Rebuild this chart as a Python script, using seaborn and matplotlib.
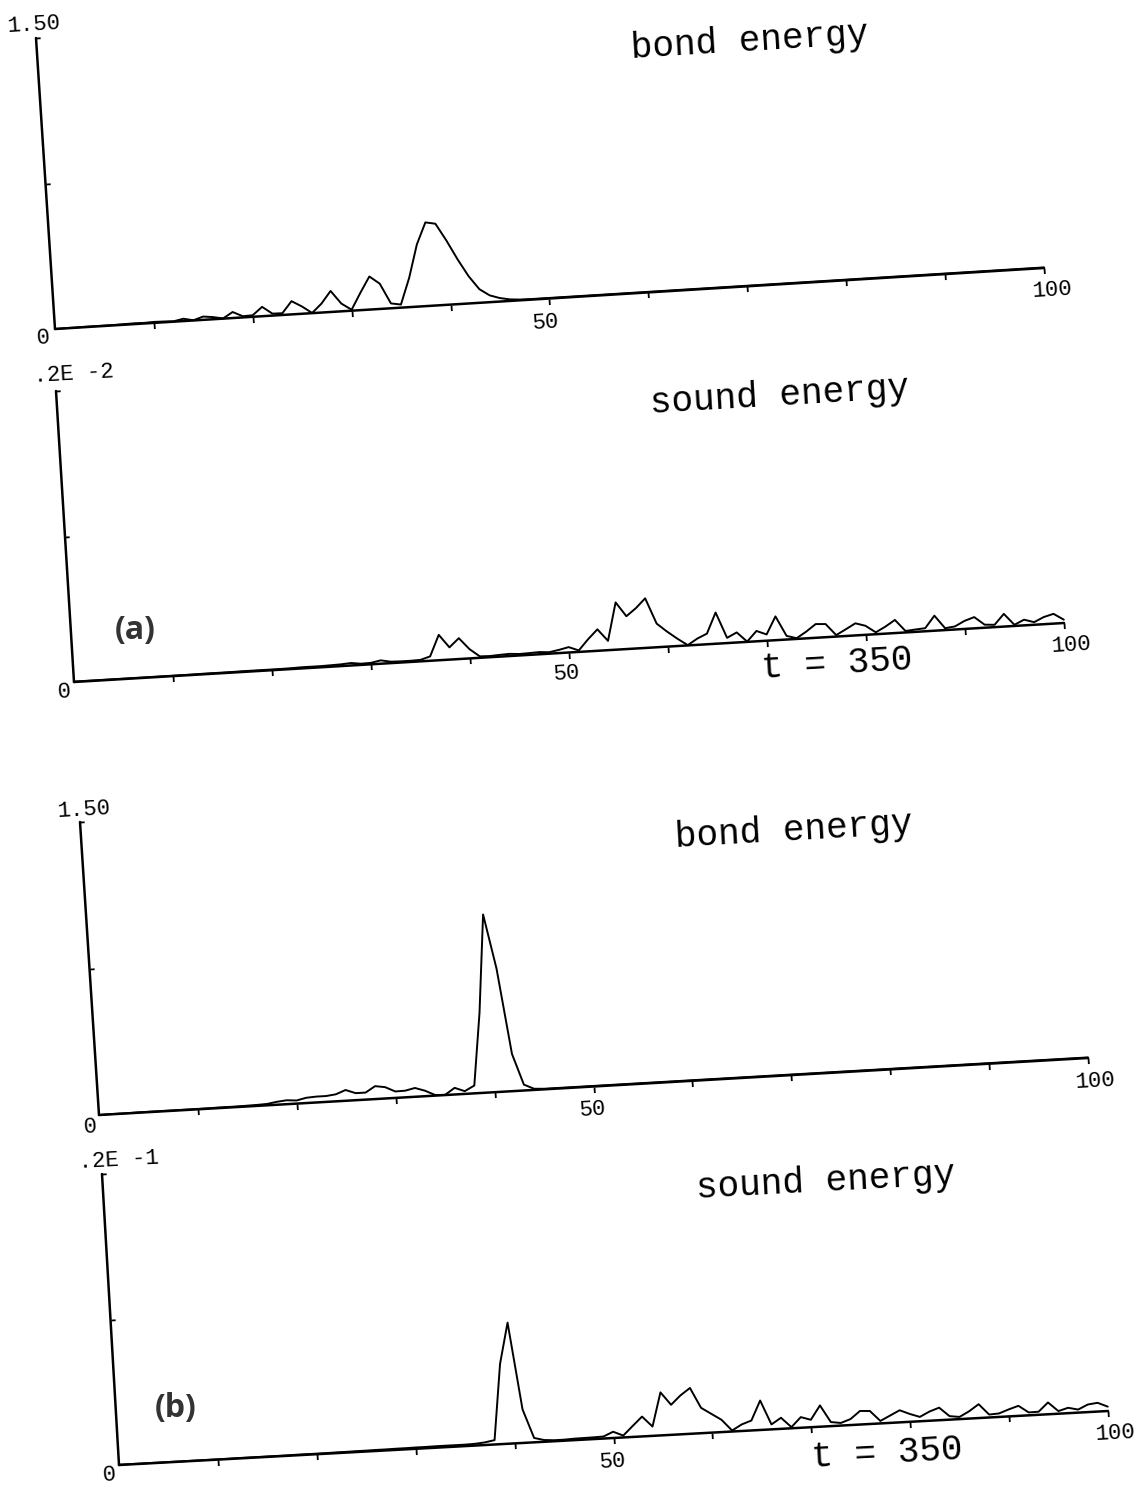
import warnings
import numpy as np
import matplotlib
matplotlib.use("Agg")
import matplotlib.pyplot as plt
import seaborn as sns
from matplotlib.transforms import Affine2D
from mpl_toolkits.axisartist import floating_axes
from mpl_toolkits.axisartist.grid_finder import FixedLocator, DictFormatter

warnings.filterwarnings("ignore")

# ---------------- data ----------------
sites = np.arange(0, 101)

bond_a = [
    0.000, 0.001, 0.001, 0.002, 0.002, 0.002, 0.002, 0.003, 0.004, 0.003,
    0.005, 0.004, 0.002, 0.012, 0.001, 0.017, 0.011, 0.001, 0.031, 0.006,
    0.008, 0.048, 0.010, 0.009, 0.068, 0.038, 0.001, 0.046, 0.108, 0.040,
    0.005, 0.090, 0.170, 0.130, 0.025, 0.016, 0.150, 0.320, 0.430, 0.420,
    0.330, 0.230, 0.140, 0.070, 0.035, 0.018, 0.008, 0.004, 0.003, 0.003,
    0.003, 0.003, 0.003, 0.003, 0.003, 0.003, 0.003, 0.003, 0.003, 0.003,
    0.003, 0.003, 0.003, 0.003, 0.003, 0.003, 0.003, 0.003, 0.003, 0.003,
    0.003, 0.003, 0.003, 0.003, 0.003, 0.003, 0.003, 0.003, 0.003, 0.003,
    0.003, 0.003, 0.003, 0.003, 0.003, 0.003, 0.003, 0.003, 0.003, 0.003,
    0.003, 0.003, 0.003, 0.003, 0.003, 0.003, 0.003, 0.003, 0.003, 0.003,
    0.003,
]

# sound energy in units of 1e-3
sound_a_milli = [
    0.003, 0.003, 0.003, 0.003, 0.003, 0.003, 0.003, 0.003, 0.003, 0.003,
    0.003, 0.003, 0.003, 0.004, 0.004, 0.004, 0.004, 0.005, 0.005, 0.005,
    0.005, 0.005, 0.006, 0.008, 0.008, 0.008, 0.010, 0.012, 0.017, 0.008,
    0.010, 0.023, 0.010, 0.008, 0.008, 0.010, 0.030, 0.174, 0.084, 0.143,
    0.064, 0.010, 0.008, 0.012, 0.015, 0.010, 0.012, 0.015, 0.010, 0.022,
    0.037, 0.010, 0.083, 0.147, 0.064, 0.324, 0.225, 0.276, 0.340, 0.162,
    0.103, 0.050, 0.002, 0.043, 0.073, 0.214, 0.036, 0.069, 0.002, 0.071,
    0.043, 0.163, 0.025, 0.005, 0.046, 0.094, 0.090, 0.010, 0.046, 0.083,
    0.062, 0.013, 0.048, 0.090, 0.010, 0.016, 0.021, 0.103, 0.013, 0.021,
    0.055, 0.077, 0.021, 0.016, 0.087, 0.008, 0.039, 0.018, 0.049, 0.067,
    0.023,
]

bond_b = [
    0.000, 0.001, 0.001, 0.001, 0.002, 0.002, 0.002, 0.002, 0.002, 0.002,
    0.002, 0.002, 0.003, 0.003, 0.003, 0.004, 0.005, 0.007, 0.015, 0.020,
    0.016, 0.027, 0.030, 0.030, 0.036, 0.055, 0.036, 0.036, 0.066, 0.058,
    0.033, 0.034, 0.045, 0.028, 0.003, 0.001, 0.034, 0.014, 0.040, 0.410,
    0.910, 0.630, 0.190, 0.030, 0.006, 0.003, 0.003, 0.003, 0.003, 0.003,
    0.003, 0.003, 0.003, 0.003, 0.003, 0.003, 0.003, 0.003, 0.003, 0.003,
    0.003, 0.003, 0.003, 0.003, 0.003, 0.003, 0.003, 0.003, 0.003, 0.003,
    0.003, 0.003, 0.003, 0.003, 0.003, 0.003, 0.003, 0.003, 0.003, 0.003,
    0.003, 0.003, 0.003, 0.003, 0.003, 0.003, 0.003, 0.003, 0.003, 0.003,
    0.003, 0.003, 0.003, 0.003, 0.003, 0.003, 0.003, 0.003, 0.003, 0.003,
    0.003,
]

sound_b_milli = [
    0.02, 0.02, 0.02, 0.02, 0.02, 0.02, 0.02, 0.02, 0.02, 0.02,
    0.02, 0.02, 0.03, 0.03, 0.03, 0.03, 0.03, 0.03, 0.04, 0.04,
    0.04, 0.04, 0.05, 0.05, 0.06, 0.06, 0.07, 0.07, 0.08, 0.08,
    0.09, 0.09, 0.10, 0.10, 0.10, 0.10, 0.12, 0.18, 0.30, 5.50,
    8.30, 2.30, 0.30, 0.12, 0.07, 0.07, 0.10, 0.11, 0.12, 0.14,
    0.43, 0.13, 0.75, 1.36, 0.64, 2.95, 2.06, 2.67, 3.14, 1.74,
    1.29, 0.84, 0.07, 0.45, 0.68, 2.02, 0.34, 0.76, 0.08, 0.73,
    0.51, 1.46, 0.28, 0.18, 0.41, 0.93, 0.89, 0.17, 0.50, 0.83,
    0.54, 0.30, 0.63, 0.86, 0.24, 0.15, 0.50, 0.95, 0.20, 0.24,
    0.48, 0.69, 0.20, 0.21, 0.81, 0.18, 0.37, 0.21, 0.52, 0.60,
    0.30,
]

x_ticks = [10, 20, 30, 40, 50, 60, 70, 80, 90, 100]
x_tick_labels = ["0", "50", "100"]
y_max_bond = 1.5
y_max_sound_a = 0.002
y_max_sound_b = 0.02
y_top_labels = ["1.50", ".2E -2", "1.50", ".2E -1"]
titles = ["bond energy", "sound energy", "bond energy", "sound energy"]
time_label = "t = 350"
case_labels = ["(a)", "(b)"]

# ---------------- figure ----------------
W, H = 1141, 1488
sns.set_style("white")
plt.rcParams["font.family"] = ["Liberation Mono", "DejaVu Sans Mono"]
fig = plt.figure(figsize=(W / 100, H / 100), dpi=100)
fig.patch.set_facecolor("white")

MONO = ["Liberation Mono", "DejaVu Sans Mono"]


def fx(x):
    return x / W


def fy(y):
    return 1 - y / H


def make_panel(O, X, Y, ymax):
    Ox, Oy = O[0], H - O[1]
    Xx, Xy = X[0], H - X[1]
    Yx, Yy = Y[0], H - Y[1]
    a = (Xx - Ox) / 100.0
    b = (Xy - Oy) / 100.0
    c = (Yx - Ox) / ymax
    d = (Yy - Oy) / ymax
    tr = Affine2D.from_values(a, b, c, d, 0, 0)
    corners = np.array([[0, 0], [a * 100, b * 100], [c * ymax, d * ymax],
                        [a * 100 + c * ymax, b * 100 + d * ymax]])
    xmn, ymn = corners.min(axis=0)
    xmx, ymx = corners.max(axis=0)
    w, h = (xmx - xmn) * 1.02, (ymx - ymn) * 1.02
    cx, cy = Ox + (xmn + xmx) / 2, Oy + (ymn + ymx) / 2
    rect = [(cx - w / 2) / W, (cy - h / 2) / H, w / W, h / H]
    gh = floating_axes.GridHelperCurveLinear(
        tr, extremes=(0, 100, 0, ymax),
        grid_locator1=FixedLocator(x_ticks),
        grid_locator2=FixedLocator([ymax / 2, ymax]),
        tick_formatter1=DictFormatter({}),
        tick_formatter2=DictFormatter({}))
    ax = fig.add_axes(rect, axes_class=floating_axes.FloatingAxes, grid_helper=gh)
    ax.patch.set_facecolor("none")
    for side in ["top", "right"]:
        ax.axis[side].set_visible(False)
    for side in ["bottom", "left"]:
        art = ax.axis[side]
        art.line.set_linewidth(1.8)
        art.line.set_color("black")
        art.major_ticklabels.set_visible(False)
        art.label.set_visible(False)
        art.major_ticks.set_color("black")
        try:
            art.major_ticks.set_markeredgewidth(1.3)
        except Exception:
            pass
        try:
            art.minor_ticks.set_visible(False)
        except Exception:
            pass
    ax.axis["bottom"].major_ticks.set_ticksize(4)
    ax.axis["left"].major_ticks.set_ticksize(3)
    try:
        ax.axis["bottom"].major_ticks.set_tick_out(True)
    except Exception:
        pass
    aux = ax.get_aux_axes(tr)
    return ax, aux


panels = [
    dict(y=np.array(bond_a), ymax=y_max_bond, O=(55, 329), X=(1044, 268), Y=(36, 38)),
    dict(y=np.array(sound_a_milli) * 1e-3, ymax=y_max_sound_a, O=(74, 682), X=(1064, 623), Y=(56, 391)),
    dict(y=np.array(bond_b), ymax=y_max_bond, O=(99, 1115), X=(1088, 1058), Y=(80, 822)),
    dict(y=np.array(sound_b_milli) * 1e-3, ymax=y_max_sound_b, O=(119, 1465), X=(1108, 1411), Y=(102, 1174)),
]

for p in panels:
    ax, aux = make_panel(p["O"], p["X"], p["Y"], p["ymax"])
    sns.lineplot(x=sites, y=p["y"], ax=aux, color="black", linewidth=1.4,
                 estimator=None, sort=False, legend=False)
    for ln in aux.lines:
        ln.set_clip_on(False)
    aux.set_xlabel("")
    aux.set_ylabel("")


def txt(x, y, s, size, ha="center", va="center", rot=0.0, **kw):
    fam = kw.pop("family", MONO)
    fig.text(fx(x), fy(y), s, fontsize=size, ha=ha, va=va, rotation=rot,
             rotation_mode="anchor", family=fam, color=kw.pop("color", "black"), **kw)


TICK = 16
TITLE = 26
angles = [3.5, 3.4, 3.3, 3.1]

# panel 1 (bond energy, a)
txt(34, 25, y_top_labels[0], TICK, rot=angles[0])
txt(43, 338, x_tick_labels[0], TICK, rot=angles[0])
txt(546, 323, x_tick_labels[1], TICK, rot=angles[0])
txt(1052, 290, x_tick_labels[2], TICK, rot=angles[0])
txt(632, 58, titles[0], TITLE, ha="left", va="baseline", rot=angles[0])

# panel 2 (sound energy, a)
txt(34, 382, y_top_labels[1], TICK, ha="left", va="baseline", rot=angles[1])
txt(64, 692, x_tick_labels[0], TICK, rot=angles[1])
txt(567, 674, x_tick_labels[1], TICK, rot=angles[1])
txt(1071, 645, x_tick_labels[2], TICK, rot=angles[1])
txt(651, 413, titles[1], TITLE, ha="left", va="baseline", rot=angles[1])
txt(762, 678, time_label, TITLE, ha="left", va="baseline", rot=angles[1])
txt(135, 631, case_labels[0], 23, family=["Open Sans", "DejaVu Sans"],
    fontweight="bold", color="#333333")

# panel 3 (bond energy, b)
txt(84, 810, y_top_labels[2], TICK, rot=angles[2])
txt(90, 1127, x_tick_labels[0], TICK, rot=angles[2])
txt(593, 1110, x_tick_labels[1], TICK, rot=angles[2])
txt(1095, 1081, x_tick_labels[2], TICK, rot=angles[2])
txt(676, 847, titles[2], TITLE, ha="left", va="baseline", rot=angles[2])

# panel 4 (sound energy, b)
txt(79, 1168, y_top_labels[3], TICK, ha="left", va="baseline", rot=angles[3])
txt(109, 1475, x_tick_labels[0], TICK, rot=angles[3])
txt(613, 1462, x_tick_labels[1], TICK, rot=angles[3])
txt(1115, 1433, x_tick_labels[2], TICK, rot=angles[3])
txt(697, 1198, titles[3], TITLE, ha="left", va="baseline", rot=angles[3])
txt(812, 1467, time_label, TITLE, ha="left", va="baseline", rot=angles[3])
txt(176, 1408, case_labels[1], 23, family=["Open Sans", "DejaVu Sans"],
    fontweight="bold", color="#333333")

fig.savefig("out.png", dpi=100, facecolor="white")
